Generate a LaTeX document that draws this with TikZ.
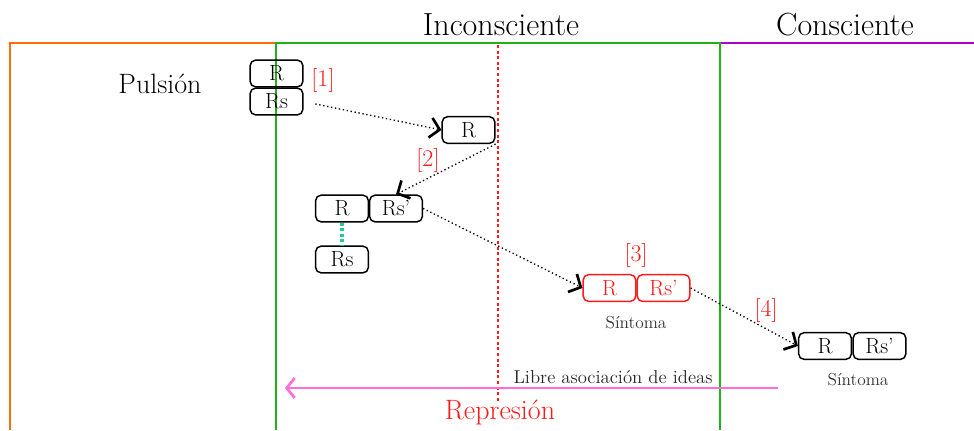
\documentclass[tikz,border=0pt]{standalone}
\usepackage{fontspec}
\usetikzlibrary{arrows.meta}
\definecolor{orng}{RGB}{255,110,10}
\definecolor{grn}{RGB}{30,180,20}
\definecolor{purp}{RGB}{170,0,210}
\definecolor{rd}{RGB}{255,25,25}
\definecolor{teal2}{RGB}{40,200,150}
\definecolor{pnk}{RGB}{255,110,220}
\begin{document}
\begin{tikzpicture}[x=0.75pt,y=-0.75pt]
\useasboundingbox (0,0) rectangle (974,430);
\tikzset{
 box/.style={draw, rounded corners=4pt, line width=1.1pt, minimum width=39.5pt, minimum height=20pt, inner sep=0pt, font=\fontsize{16.5}{16.5}\selectfont},
 redbox/.style={box, draw=rd, text=rd},
 frame/.style={line width=1.8pt},
 flow/.style={dotted, line width=1pt, -{Straight Barb[length=7pt,width=15pt,line width=2pt]}},
 tag/.style={text=rd, font=\fontsize{18}{18}\selectfont},
 title/.style={font=\fontsize{24}{24}\selectfont},
 captxt/.style={font=\fontsize{13}{13}\selectfont, text=black!80}
}
% frames
\draw[frame, purp] (720,43) -- (974,43);
\draw[frame, orng] (10,430) -- (10,43) -- (276,43);
\draw[frame, grn] (276,430) -- (276,43) -- (720,43) -- (720,430);
\draw[rd, line width=2.2pt, dash pattern=on 2.2pt off 2pt] (498,45) -- (498,402);
% titles
\node[title] (inc) at (501,25) {Inconsciente};
\node[title] (con) at (845,25) {Consciente};
\node[font=\fontsize{21}{21}\selectfont] (pul) at (160,84) {Pulsión};
% boxes
\node[box] (r1) at (276.5,73.5) {R};
\node[box] (rs1) at (276.5,101.5) {Rs};
\node[tag] (t1) at (323,80) {[1]};
\node[box] (r2) at (468.5,130) {R};
\node[tag] (t2) at (428,160) {[2]};
\node[box] (r3) at (342,208.5) {R};
\node[box] (rsp3) at (396,208.5) {Rs’};
\node[box] (rs3) at (342,259.5) {Rs};
\draw[teal2, line width=2.4pt, dash pattern=on 2.2pt off 2pt] (r3.south) -- (rs3.north);
\node[tag] (t3) at (636,255) {[3]};
\node[redbox] (r4) at (609.5,288) {R};
\node[redbox] (rsp4) at (663.5,288) {Rs’};
\node[captxt] (s4) at (636,323) {Síntoma};
\node[tag] (t4) at (766,310) {[4]};
\node[box] (r5) at (825,346) {R};
\node[box] (rsp5) at (879.5,346) {Rs’};
\node[captxt] (s5) at (858,380) {Síntoma};
% flows
\draw[flow, shorten <=9pt] (rs1.east) -- (r2.west);
\draw[flow] (r2.south east) -- (rsp3.north);
\draw[flow] (rsp3.east) -- (r4.west);
\draw[flow] (rsp4.east) -- (r5.west);
% libre asociacion
\coordinate (pa) at (778,388);
\coordinate (pb) at (285,388);
\draw[pnk, line width=1.6pt, -{Straight Barb[length=6pt,width=15pt,line width=2pt]}] (pa) -- (pb);
\node[font=\fontsize{14}{14}\selectfont, text=black!85] (lib) at (613,377) {Libre asociación de ideas};
\node[font=\fontsize{21}{21}\selectfont, text=rd] (rep) at (500,412) {Represión};
\end{tikzpicture}
\end{document}
